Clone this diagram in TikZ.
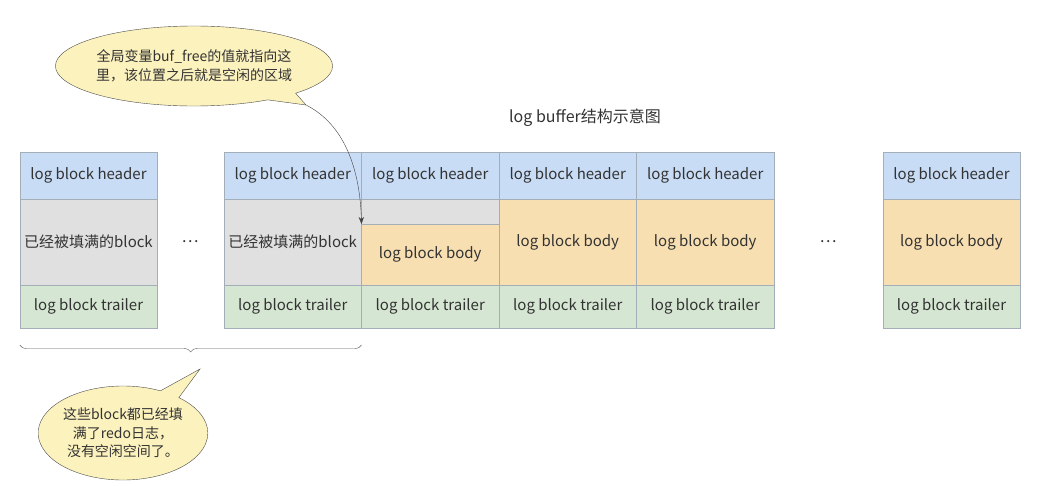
\documentclass[tikz,border=0pt]{standalone}
\usepackage{fontspec}
\setmainfont{Noto Sans CJK SC}
\usepackage{tikz}
\usetikzlibrary{shapes,calc,positioning,decorations.pathreplacing,arrows.meta}

\definecolor{hdrblue}{HTML}{C8DCF6}
\definecolor{bodyorange}{HTML}{F8DFB1}
\definecolor{fullgray}{HTML}{E0E0E0}
\definecolor{trlgreen}{HTML}{D5E7D2}
\definecolor{cellline}{HTML}{A4AEB8}
\definecolor{notefill}{HTML}{FCF2BE}
\definecolor{txt}{HTML}{333333}

\begin{document}
\begin{tikzpicture}[x=1pt,y=-1pt,text=txt,font=\fontsize{15}{18}\selectfont]
  \tikzstyle{cell}=[rectangle,draw=cellline,inner sep=0pt,outer sep=0pt,minimum width=137.5pt]
  \tikzstyle{hdr}=[cell,fill=hdrblue,minimum height=47pt]
  \tikzstyle{full}=[cell,fill=fullgray,minimum height=86pt]
  \tikzstyle{body}=[cell,fill=bodyorange,minimum height=86pt]
  \tikzstyle{trl}=[cell,fill=trlgreen,minimum height=43pt]
  \tikzstyle{dots}=[font=\fontsize{16}{18}\selectfont]
  \tikzstyle{note}=[ellipse callout,draw=black!70,fill=notefill,align=center,
    inner sep=0pt,font=\fontsize{14}{18.5}\selectfont]
  \useasboundingbox (0,0) rectangle (1053,485);

  \node[font=\fontsize{16}{19}\selectfont] (title) at (585,118) {log buffer结构示意图};

  % first block
  \node[hdr] (h1) at (88.5,175.5) {log block header};
  \node[full,below=0pt of h1] (m1) {已经被填满的block};
  \node[trl,below=0pt of m1] (t1) {log block trailer};
  \node[dots] (d1) at (190,242) {…};

  % blocks in the middle
  \node[hdr] (h2) at (292.75,175.5) {log block header};
  \node[full,below=0pt of h2] (m2) {已经被填满的block};
  \node[trl,below=0pt of m2] (t2) {log block trailer};

  \node[hdr,right=0pt of h2] (h3) {log block header};
  \node[cell,fill=fullgray,minimum height=25pt,below=0pt of h3] (g3) {};
  \node[cell,fill=bodyorange,minimum height=61pt,below=0pt of g3] (m3) {log block body};
  \node[trl,below=0pt of m3] (t3) {log block trailer};

  \node[hdr,right=0pt of h3] (h4) {log block header};
  \node[body,below=0pt of h4] (m4) {log block body};
  \node[trl,below=0pt of m4] (t4) {log block trailer};

  \node[hdr,right=0pt of h4] (h5) {log block header};
  \node[body,below=0pt of h5] (m5) {log block body};
  \node[trl,below=0pt of m5] (t5) {log block trailer};
  \node[dots] (d2) at (828,242) {…};

  % last block
  \node[hdr] (h6) at (951.5,175.5) {log block header};
  \node[body,below=0pt of h6] (m6) {log block body};
  \node[trl,below=0pt of m6] (t6) {log block trailer};

  % notes
  \node[note,minimum width=226pt,minimum height=80pt,
    callout absolute pointer={(306,105)}] (n1) at (194,66)
    {全局变量buf\_free的值就指向这\\里，该位置之后就是空闲的区域};
  \draw[-{Stealth[length=7pt]},black!75] (n1.pointer) .. controls (345,125) and (360,170) .. (g3.south west);

  \draw[black!65,decorate,decoration={brace,mirror,amplitude=7pt}]
    ($(t1.south west)+(0,17)$) -- ($(t2.south east)+(0,17)$) coordinate[midway] (bmid);
  \node[note,minimum width=168pt,minimum height=94pt,
    callout absolute pointer={(200,369)}] (n2) at (123,433)
    {这些block都已经填\\满了redo日志，\\没有空闲空间了。};
\end{tikzpicture}
\end{document}
